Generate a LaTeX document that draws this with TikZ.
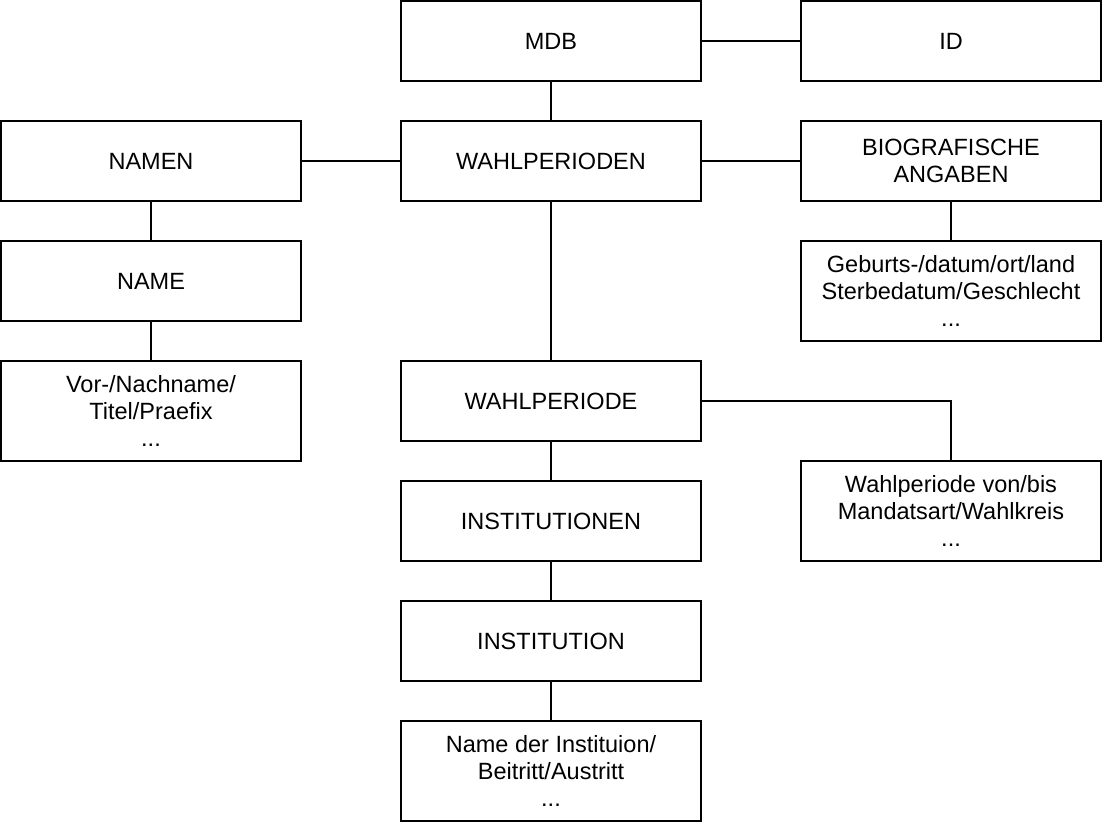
\documentclass[tikz,border=0pt]{standalone}
\usepackage{fontspec}
\setmainfont{Liberation Sans}
\begin{document}
\begin{tikzpicture}[x=1pt,y=-1pt,
  box/.style={draw, line width=2pt, minimum width=300pt, minimum height=80pt, align=center,
    font=\fontsize{23.5}{27}\selectfont, inner sep=0pt},
  tall/.style={box, minimum height=100pt},
  conn/.style={line width=2pt}]
\useasboundingbox (0,0) rectangle (1102,822);
\node[box] (mdb) at (551,41) {MDB};
\node[box] (id) at (951,41) {ID};
\node[box] (namen) at (151,161) {NAMEN};
\node[box] (wps) at (551,161) {WAHLPERIODEN};
\node[box] (bio) at (951,161) {BIOGRAFISCHE\\ANGABEN};
\node[box] (name) at (151,281) {NAME};
\node[tall] (vor) at (151,411) {Vor-/Nachname/\\Titel/Praefix\\...};
\node[tall] (geb) at (951,291) {Geburts-/datum/ort/land\\Sterbedatum/Geschlecht\\...};
\node[box] (wp) at (551,401) {WAHLPERIODE};
\node[tall] (wpv) at (951,511) {Wahlperiode von/bis\\Mandatsart/Wahlkreis\\...};
\node[box] (insts) at (551,521) {INSTITUTIONEN};
\node[box] (inst) at (551,641) {INSTITUTION};
\node[tall] (nd) at (551,771) {Name der Instituion/\\Beitritt/Austritt\\...};
\draw[conn] (mdb) -- (id);
\draw[conn] (mdb) -- (wps);
\draw[conn] (namen) -- (wps);
\draw[conn] (wps) -- (bio);
\draw[conn] (namen) -- (name);
\draw[conn] (name) -- (vor);
\draw[conn] (bio) -- (geb);
\draw[conn] (wps) -- (wp);
\draw[conn] (wp.east) -| (wpv.north);
\draw[conn] (wp) -- (insts);
\draw[conn] (insts) -- (inst);
\draw[conn] (inst) -- (nd);
\end{tikzpicture}
\end{document}
